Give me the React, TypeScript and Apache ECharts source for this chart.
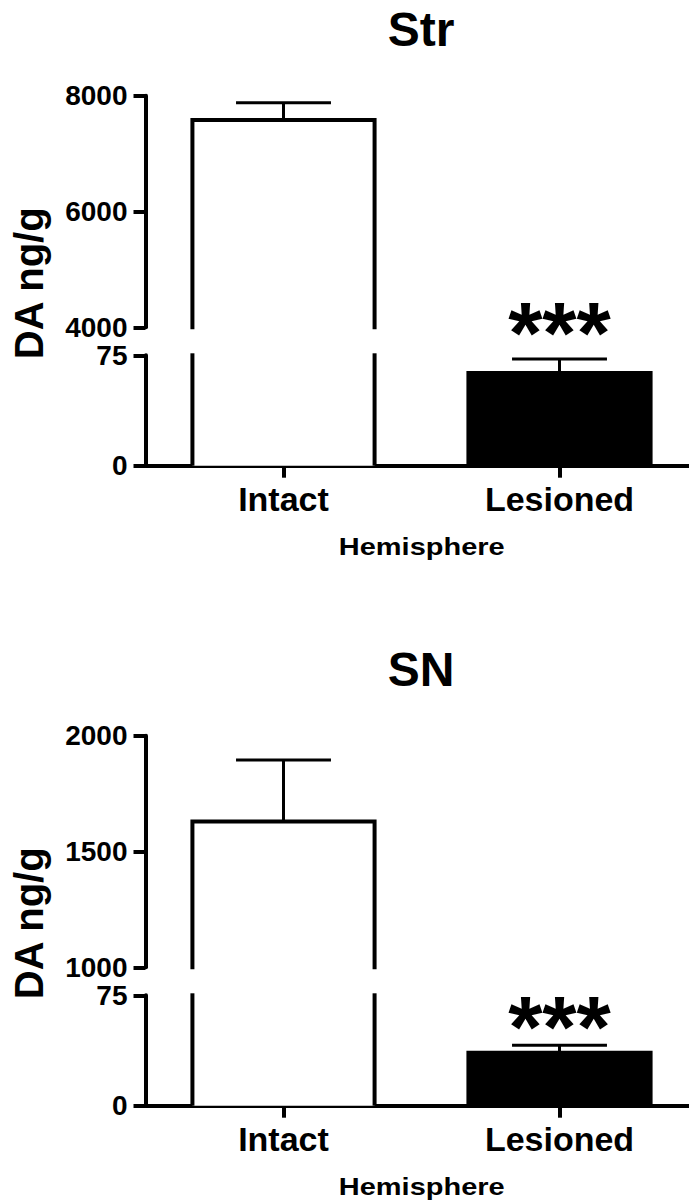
import React, { useEffect, useRef } from "react";
import * as echarts from "echarts";

// ---- data ----
const categories = ["Intact", "Lesioned"];
const barColors = ["#ffffff", "#000000"];
const sigLabels = ["", "***"];

const panelTitles = ["Str", "SN"];
const strMeans = [7580, 63];
const strSems = [300, 9.5];
const snMeans = [1630, 36];
const snSems = [265, 5];

// [min, max, interval] of the axis segments
const strUpperRange = [4000, 8000, 2000];
const snUpperRange = [1000, 2000, 500];
const lowerRange = [0, 75, 75];

const yTitle = "DA ng/g";
const xTitle = "Hemisphere";

const FONT = '"Liberation Sans", Arial, Helvetica, sans-serif';

type Range = number[];

function makeRender(range: Range, isUpper: boolean, starGap: number) {
  return (params: any, api: any) => {
    const cat = api.value(0);
    const mean = api.value(1);
    const sem = api.value(2);
    const cs = params.coordSys;
    const top = cs.y;
    const bottom = cs.y + cs.height;
    const bandW = api.size([1, 0])[0];
    const cx = api.coord([cat, range[0]])[0];
    const halfW = bandW * 0.33;
    const capHalf = bandW * 0.172;
    const yMin = range[0];
    const yMax = range[1];
    const children: any[] = [];
    const l = cx - halfW;
    const r = cx + halfW;
    if (mean > yMin) {
      const clipped = mean > yMax;
      const yTop = clipped ? top - 2 : api.coord([cat, mean])[1];
      const yBot = isUpper ? bottom + 2 : bottom;
      children.push({
        type: "rect",
        shape: { x: l, y: yTop, width: r - l, height: yBot - yTop },
        style: { fill: barColors[cat] },
      });
      if (clipped) {
        children.push({
          type: "line",
          shape: { x1: l, y1: yTop, x2: l, y2: yBot },
          style: { stroke: "#000", lineWidth: 4 },
        });
        children.push({
          type: "line",
          shape: { x1: r, y1: yTop, x2: r, y2: yBot },
          style: { stroke: "#000", lineWidth: 4 },
        });
      } else {
        children.push({
          type: "polyline",
          shape: { points: [[l, yBot], [l, yTop], [r, yTop], [r, yBot]] },
          style: { stroke: "#000", lineWidth: 4, fill: null },
        });
        const errTop = mean + sem;
        if (errTop <= yMax) {
          const yb = api.coord([cat, mean])[1];
          const ye = api.coord([cat, errTop])[1];
          children.push({
            type: "line",
            shape: { x1: cx, y1: yb, x2: cx, y2: ye },
            style: { stroke: "#000", lineWidth: 3 },
          });
          children.push({
            type: "line",
            shape: { x1: cx - capHalf, y1: ye, x2: cx + capHalf, y2: ye },
            style: { stroke: "#000", lineWidth: 3 },
          });
          if (sigLabels[cat]) {
            children.push({
              type: "text",
              x: cx,
              y: ye - starGap,
              style: {
                text: sigLabels[cat],
                fill: "#000",
                fontSize: 88,
                fontWeight: "bold",
                fontFamily: FONT,
                align: "center",
                verticalAlign: "middle",
              },
            });
          }
        }
      }
    }
    return { type: "group", children };
  };
}

export default function App() {
  const ref = useRef<HTMLDivElement>(null);
  useEffect(() => {
    if (!ref.current) return;
    const chart = echarts.init(ref.current, null, { renderer: "svg" });

    const panels = [
      { off: 0, upper: strUpperRange, means: strMeans, sems: strSems, gap: 26 },
      { off: 640, upper: snUpperRange, means: snMeans, sems: snSems, gap: 19 },
    ];

    const grids: any[] = [];
    const xAxes: any[] = [];
    const yAxes: any[] = [];
    const series: any[] = [];
    const graphics: any[] = [];

    const yAxisBase = (gi: number, range: Range) => ({
      type: "value",
      gridIndex: gi,
      min: range[0],
      max: range[1],
      interval: range[2],
      axisLine: { show: true, lineStyle: { color: "#000", width: 4 } },
      axisTick: { show: true, length: 12, lineStyle: { color: "#000", width: 4 } },
      axisLabel: {
        color: "#000",
        fontSize: 28,
        fontWeight: "bold",
        fontFamily: FONT,
        margin: 18,
        formatter: (v: number) => String(v),
      },
      splitLine: { show: false },
    });

    panels.forEach((p, pi) => {
      const gU = pi * 2;
      const gL = pi * 2 + 1;
      grids.push({
        left: 145.5,
        width: 552,
        top: 95.7 + p.off,
        height: 231.6,
        outerBoundsMode: "none",
        containLabel: false,
      });
      grids.push({
        left: 145.5,
        width: 552,
        top: 355.3 + p.off,
        height: 110.4,
        outerBoundsMode: "none",
        containLabel: false,
      });
      xAxes.push({ type: "category", gridIndex: gU, data: categories, show: false });
      xAxes.push({
        type: "category",
        gridIndex: gL,
        data: categories,
        axisLine: { show: true, lineStyle: { color: "#000", width: 4 } },
        axisTick: {
          show: true,
          alignWithLabel: true,
          length: 12,
          lineStyle: { color: "#000", width: 4 },
        },
        axisLabel: {
          color: "#000",
          fontSize: 34,
          fontWeight: "bold",
          fontFamily: FONT,
          margin: 33,
          verticalAlign: "middle",
        },
      });
      yAxes.push(yAxisBase(gU, p.upper));
      yAxes.push(yAxisBase(gL, lowerRange));
      const data = categories.map((c, i) => [i, p.means[i], p.sems[i]]);
      series.push({
        type: "custom",
        xAxisIndex: gU,
        yAxisIndex: gU,
        data,
        clip: false,
        silent: true,
        renderItem: makeRender(p.upper, true, p.gap),
      });
      series.push({
        type: "custom",
        xAxisIndex: gL,
        yAxisIndex: gL,
        data,
        clip: false,
        silent: true,
        renderItem: makeRender(lowerRange, false, p.gap),
      });
      graphics.push({
        type: "text",
        x: 421,
        y: 29 + p.off,
        style: {
          text: panelTitles[pi],
          fill: "#000",
          fontSize: 48,
          fontWeight: "bold",
          fontFamily: FONT,
          align: "center",
          verticalAlign: "middle",
        },
      });
      graphics.push({
        type: "text",
        x: 29.4,
        y: 283.3 + p.off,
        rotation: Math.PI / 2,
        style: {
          text: yTitle,
          fill: "#000",
          fontSize: 40,
          fontWeight: "bold",
          fontFamily: FONT,
          align: "center",
          verticalAlign: "middle",
        },
      });
      graphics.push({
        type: "text",
        x: 421.7,
        y: 546.7 + p.off,
        scaleX: 1.26,
        style: {
          text: xTitle,
          fill: "#000",
          fontSize: 23,
          fontWeight: "bold",
          fontFamily: FONT,
          align: "center",
          verticalAlign: "middle",
        },
      });
    });

    chart.setOption({
      animation: false,
      backgroundColor: "#ffffff",
      grid: grids,
      xAxis: xAxes,
      yAxis: yAxes,
      series,
      graphic: graphics,
    });
    return () => chart.dispose();
  }, []);
  return (
    <div
      ref={ref}
      style={{ position: "absolute", left: 0, top: 0, width: 689, height: 1203 }}
    />
  );
}
